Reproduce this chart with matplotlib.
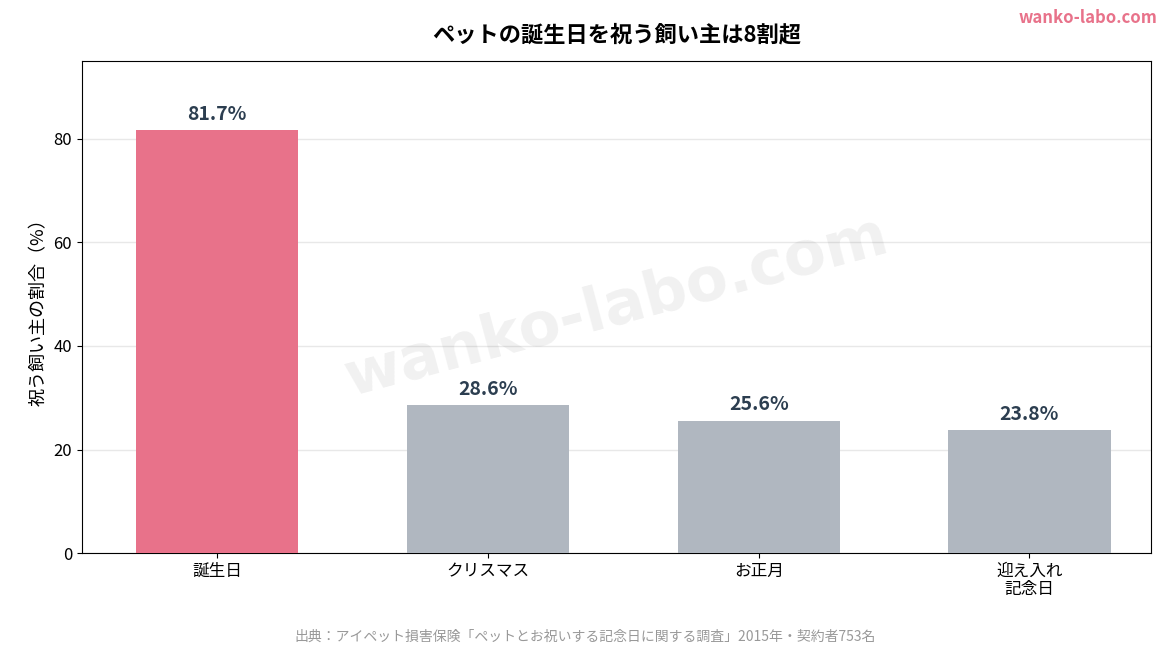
import matplotlib
matplotlib.use("Agg")
import matplotlib.pyplot as plt

plt.rcParams['font.family'] = ['Noto Sans CJK JP', 'DejaVu Sans']

categories = ["誕生日", "クリスマス", "お正月", "迎え入れ\n記念日"]
values = [81.7, 28.6, 25.6, 23.8]
colors = ["#E8728A", "#B0B7C0", "#B0B7C0", "#B0B7C0"]

fig = plt.figure(figsize=(11.7, 6.5), dpi=100)
ax = fig.add_axes([0.070, 0.149, 0.914, 0.757])
x = range(len(categories))
bars = ax.bar(x, values, width=0.6, color=colors, zorder=3)
for xi, v in zip(x, values):
    ax.text(xi, v + 1.2, f"{v}%", ha="center", va="bottom", fontsize=14,
            fontweight="bold", color="#2C3E50", zorder=4)
ax.set_xlim(-0.5, 3.45)
ax.set_ylim(0, 95)
ax.set_yticks([0, 20, 40, 60, 80])
ax.set_xticks(list(x))
ax.set_xticklabels(categories, fontsize=12, linespacing=1.1)
ax.tick_params(axis='y', labelsize=12)
ax.yaxis.grid(True, color="#E8E8E8", linewidth=1, zorder=0)
ax.set_ylabel("祝う飼い主の割合（%）", fontsize=13)
ax.set_title("ペットの誕生日を祝う飼い主は8割超", fontsize=16, fontweight="bold", pad=14)
ax.text(0.5, 0.5, "wanko-labo.com", transform=ax.transAxes, ha="center", va="center",
        fontsize=44, fontweight="bold", color="#000000", alpha=0.06, rotation=15,
        family=['DejaVu Sans'], zorder=5)
fig.text(0.989, 0.972, "wanko-labo.com", ha="right", va="center", fontsize=12,
         fontweight="bold", color="#E8728A")
fig.text(0.5, 0.02, "出典：アイペット損害保険「ペットとお祝いする記念日に関する調査」2015年・契約者753名",
         ha="center", va="center", fontsize=10, color="#999999")
fig.savefig("out.png", dpi=100)
